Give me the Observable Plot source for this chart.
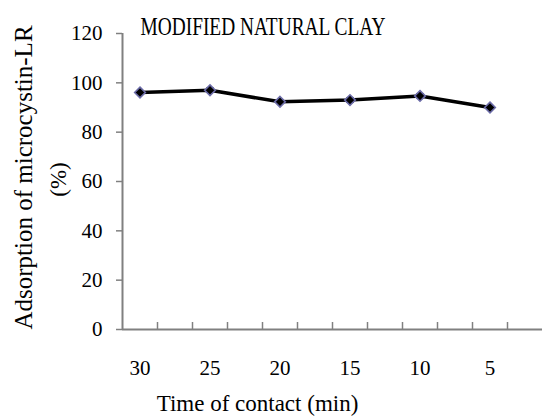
<!DOCTYPE html>
<html>
<head>
<meta charset="utf-8">
<script src="https://cdn.jsdelivr.net/npm/d3@7"></script>
<script src="https://cdn.jsdelivr.net/npm/@observablehq/plot@0.6"></script>
<style>
  html, body { margin: 0; padding: 0; background: #fff; }
  #chart svg { display: block; }
  #chart svg, #chart svg text { font-family: "Liberation Serif", "Times New Roman", serif !important; }
</style>
</head>
<body>
<div id="chart"></div>
<script>
const categories = ["30", "25", "20", "15", "10", "5"];
const adsorption = [96.1, 97.0, 92.3, 93.0, 94.7, 90.0];
const errors = [0.6, 0.8, 0.5, 0.8, 0.7, 0.6];
const yTicks = [0, 20, 40, 60, 80, 100, 120];
const title = "MODIFIED NATURAL CLAY";
const xLabel = "Time of contact (min)";
const yLabel1 = "Adsorption of microcystin-LR";
const yLabel2 = "(%)";

// each category occupies two slots; points sit in the middle of every other slot
const data = categories.map((c, i) => ({time: c, pos: 2 * i + 0.5, value: adsorption[i], err: errors[i]}));
const slotEdges = d3.range(1, 2 * categories.length);
const FONT = "Liberation Serif, Times New Roman, serif";

const capSymbol = {
  draw(ctx, size) {
    const w = Math.sqrt(size) / 2;
    ctx.moveTo(-w, 0);
    ctx.lineTo(w, 0);
  }
};

const chart = Plot.plot({
  width: 542,
  height: 416,
  marginLeft: 122,
  marginRight: 0,
  marginTop: 33,
  marginBottom: 87,
  style: {fontFamily: FONT, background: "#fff", color: "#000"},
  x: {domain: [0, 2 * categories.length], axis: null},
  y: {domain: [0, 120], axis: null},
  marks: [
    Plot.axisY({ticks: yTicks, label: null, tickSize: 6, tickPadding: 14, fontSize: 21, stroke: "#808080", strokeWidth: 1.5, fill: "#000"}),
    Plot.axisX({ticks: slotEdges, label: null, tickFormat: () => "", tickSize: -7, stroke: "#808080", strokeWidth: 1.5}),
    Plot.axisX({ticks: data.map(d => d.pos), label: null, tickFormat: d => categories[(d - 0.5) / 2], tickSize: 0, tickPadding: 31, fontSize: 21, fill: "#000"}),
    Plot.ruleX([0], {stroke: "#808080", strokeWidth: 2}),
    Plot.ruleY([0], {stroke: "#808080", strokeWidth: 2}),
    Plot.ruleX(data, {x: "pos", y1: d => d.value - d.err, y2: d => d.value + d.err, stroke: "#000", strokeWidth: 1.5}),
    Plot.dot(data, {x: "pos", y: d => d.value + d.err, symbol: capSymbol, r: 4.5, stroke: "#000", strokeWidth: 1.5}),
    Plot.dot(data, {x: "pos", y: d => d.value - d.err, symbol: capSymbol, r: 4.5, stroke: "#000", strokeWidth: 1.5}),
    Plot.line(data, {x: "pos", y: "value", stroke: "#000", strokeWidth: 3.5}),
    Plot.dot(data, {x: "pos", y: "value", symbol: "diamond2", r: 4.8, fill: "#000", stroke: "#6c6ca8", strokeWidth: 1.6}),
    Plot.text([title], {frameAnchor: "top-left", dx: 18, dy: 1, textAnchor: "start", lineAnchor: "bottom", fontSize: 25, fill: "#000", className: "chart-title"}),
    Plot.text([xLabel], {frameAnchor: "bottom", dx: -75, dy: 74, textAnchor: "middle", lineAnchor: "middle", fontSize: 23, fill: "#000"}),
    Plot.text([yLabel1], {frameAnchor: "left", textAnchor: "middle", rotate: -90, dx: -99, dy: -4, fontSize: 25, fill: "#000"}),
    Plot.text([yLabel2], {frameAnchor: "left", textAnchor: "middle", rotate: -90, dx: -64, dy: -2, fontSize: 23, fill: "#000"})
  ]
});

const t = chart.querySelector(".chart-title text");
if (t) { t.setAttribute("textLength", "245"); t.setAttribute("lengthAdjust", "spacingAndGlyphs"); }

document.getElementById("chart").appendChild(chart);
</script>
</body>
</html>
